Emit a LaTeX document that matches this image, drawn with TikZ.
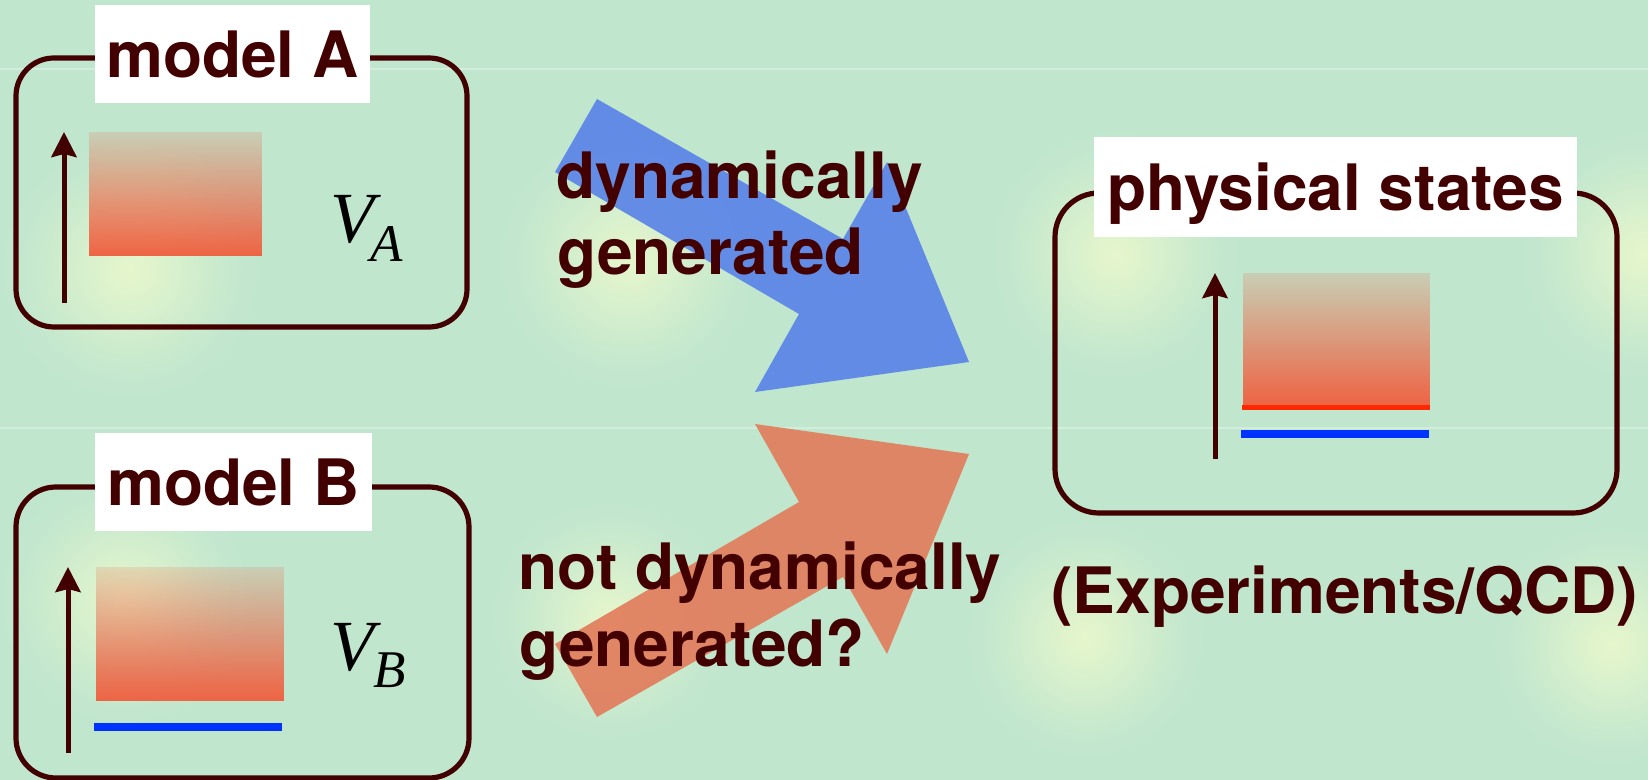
\documentclass[tikz,border=0pt]{standalone}
\usepackage{fontspec}
\setmainfont{TeX Gyre Heros}
\newfontfamily\timesfont{Liberation Serif}
\usetikzlibrary{arrows.meta,fadings}
\definecolor{bgc}{RGB}{192,230,206}
\definecolor{glowc}{RGB}{230,246,204}
\definecolor{darkc}{RGB}{66,0,0}
\definecolor{bluearr}{RGB}{88,130,232}
\definecolor{redarr}{RGB}{226,123,90}
\definecolor{gradc}{RGB}{238,100,68}
\definecolor{bluelev}{RGB}{0,51,255}
\definecolor{redlev}{RGB}{255,40,0}
\pgfdeclareradialshading{glowshade}{\pgfpoint{0bp}{0bp}}{color(0bp)=(glowc); color(7bp)=(glowc!70!bgc); color(14bp)=(glowc!35!bgc); color(20bp)=(glowc!10!bgc); color(25bp)=(bgc); color(50bp)=(bgc)}
\tikzfading[name=gradfade, top color=transparent!82, bottom color=transparent!0]
\begin{document}
\begin{tikzpicture}[x=0.5pt,y=-0.5pt,
  boxline/.style={draw=darkc, line width=2.6pt},
  lbl/.style={fill=white, inner sep=0pt, text=darkc, font=\bfseries\fontsize{32}{38}\selectfont, text height=23.5pt, text depth=0pt, align=center},
  txt/.style={inner sep=0pt, text=darkc, font=\bfseries\fontsize{32}{38}\selectfont},
  vlab/.style={inner sep=0pt, text=black, font=\timesfont\itshape\fontsize{36}{36}\selectfont},
  vsub/.style={inner sep=0pt, text=black, font=\timesfont\itshape\fontsize{26.5}{26.5}\selectfont},
  uparrow/.style={draw=darkc, line width=2.5pt, -{Stealth[length=12.5pt,width=12.5pt,inset=1.5pt]}},
  seam/.style={draw=bgc!70!white, line width=1.1pt},
  gradbox/.style={fill=gradc, path fading=gradfade},
  blockarrow/.style={fill opacity=0.9}
]
\useasboundingbox (0,0) rectangle (1648,780);
\fill[bgc] (0,0) rectangle (1648,780);
% background glows
\foreach \cx/\cy/\r in {130/270/135, 125/600/130, 628/260/135, 610/620/125, 1115/255/130, 1645/255/130, 1085/638/125, 1612/645/125}
  \shade[shading=glowshade] (\cx,\cy) circle (\r);
\draw[seam] (0,69) -- (1648,69);
\draw[seam] (0,428) -- (1648,428);

% ---------- model A ----------
\draw[boxline, rounded corners=19pt] (16,58) rectangle (467,327);
\fill[gradbox] (89,132) rectangle (262,256);
\coordinate (aA0) at (64,303);
\coordinate (aA1) at (64,132);
\draw[uparrow] (aA0) -- (aA1);
\node[lbl, minimum width=137.5pt, minimum height=49pt, anchor=base] (labA) at (232.5,78) {model A};
\node[vlab, anchor=base west] (VA) at (330,243) {V};
\node[vsub, anchor=base west] (VAs) at (370,262) {A};

% ---------- model B ----------
\draw[boxline, rounded corners=20pt] (16,487) rectangle (469,778);
\fill[gradbox] (96,567) rectangle (284,701);
\fill[bluelev] (94,723) rectangle (282,731);
\coordinate (aB0) at (68,753);
\coordinate (aB1) at (68,567);
\draw[uparrow] (aB0) -- (aB1);
\node[lbl, minimum width=138.5pt, minimum height=49pt, anchor=base] (labB) at (233.5,505) {model B};
\node[vlab, anchor=base west] (VB) at (330,670) {V};
\node[vsub, anchor=base west] (VBs) at (373,687) {B};

% ---------- physical states ----------
\draw[boxline, rounded corners=22pt] (1055,193) rectangle (1617,513);
\fill[gradbox] (1243,273) rectangle (1430,405);
\fill[redlev] (1242,405) rectangle (1430,409.5);
\fill[bluelev] (1241,430) rectangle (1429,438);
\coordinate (aP0) at (1215,459);
\coordinate (aP1) at (1215,273);
\draw[uparrow] (aP0) -- (aP1);
\node[lbl, minimum width=241.5pt, minimum height=50pt, anchor=base] (labP) at (1335.5,211) {physical states};
\node[txt, anchor=base west] (exp) at (1051,613) {(Experiments/QCD)};

% ---------- block arrows ----------
\fill[bluearr, blockarrow] (597,99) -- (555,172) -- (799,314) -- (755,392) -- (969,362) -- (887,162) -- (843,239) -- cycle;
\fill[redarr, blockarrow] (597,717) -- (555,644) -- (799,502) -- (755,424) -- (969,454) -- (887,654) -- (843,577) -- cycle;

\node[txt, anchor=base west] (dyn1) at (556,199) {dynamically};
\node[txt, anchor=base west] (dyn2) at (557,275) {generated};
\node[txt, anchor=base west] (ndyn1) at (518,589) {not dynamically};
\node[txt, anchor=base west] (ndyn2) at (519,666) {generated?};
\end{tikzpicture}
\end{document}
